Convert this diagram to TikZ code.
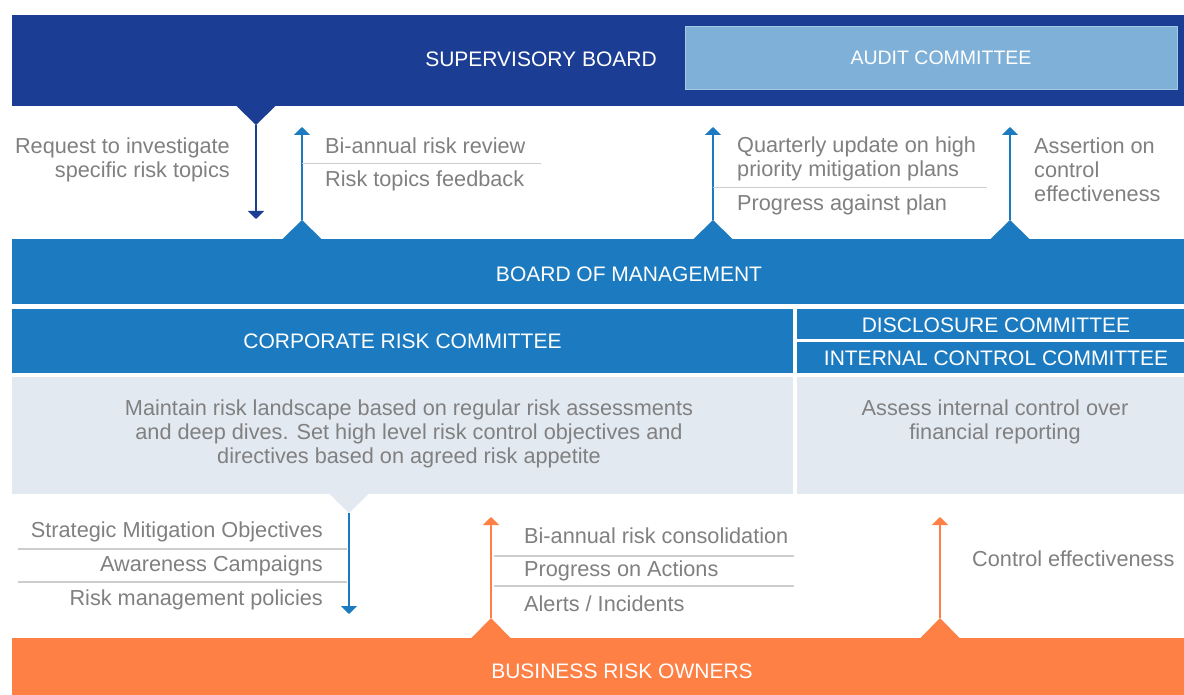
\documentclass[tikz,border=0pt]{standalone}
\usepackage{fontspec}
\setmainfont{Liberation Sans}
\usetikzlibrary{arrows.meta}

\definecolor{boardblue}{HTML}{1C3D94}
\definecolor{auditblue}{HTML}{7FB1D8}
\definecolor{mgmtblue}{HTML}{1C7BC0}
\definecolor{paleblue}{HTML}{E3E9F1}
\definecolor{ownerorange}{HTML}{FF8045}
\definecolor{txtgray}{HTML}{808080}
\definecolor{sepgray}{HTML}{CDCDCD}

\begin{document}
\begin{tikzpicture}[
  x=1pt, y=-1pt,
  band/.style={fill=#1, text=white, inner sep=0, font=\fontsize{21}{24}\selectfont},
  title/.style={text=white, inner sep=0, font=\fontsize{21}{24}\selectfont},
  lbl/.style={text=txtgray, inner sep=0, font=\fontsize{21.7}{24}\selectfont},
  flow/.style={line width=2pt, -{Triangle[width=16pt,length=8pt]}},
  sep/.style={draw=sepgray, line width=1.5pt}
]
\useasboundingbox[fill=white] (0,0) rectangle (1184,695);

% bands
\node[band=boardblue, minimum width=1172pt, minimum height=91pt] (superv) at (598,60.5) {};
\node[title] (supervtxt) at (541,59) {SUPERVISORY BOARD};
\node[band=auditblue, draw=auditblue!70!white, line width=1pt, minimum width=492pt, minimum height=63pt] (audit) at (931,58.5) {};
\node[title, font=\fontsize{19.5}{24}\selectfont] (audittxt) at (941,58) {AUDIT COMMITTEE};
\node[band=mgmtblue, minimum width=1172pt, minimum height=65pt] (mgmt) at (598,271.5) {};
\node[title] (mgmttxt) at (629,274) {BOARD OF MANAGEMENT};
\node[band=mgmtblue, minimum width=781pt, minimum height=64pt] (crc) at (402.5,341) {CORPORATE RISK COMMITTEE};
\node[band=mgmtblue, minimum width=387pt, minimum height=30pt] (disc) at (990.5,324) {};
\node[title] (disctxt) at (996,325) {DISCLOSURE COMMITTEE};
\node[band=mgmtblue, minimum width=387pt, minimum height=31pt] (icc) at (990.5,357.5) {};
\node[title] (icctxt) at (996,358) {INTERNAL CONTROL COMMITTEE};
\node[band=paleblue, minimum width=781pt, minimum height=117pt] (crcbox) at (402.5,435.5) {};
\node[lbl, align=center] (crctxt) at (409,434) {Maintain risk landscape based on regular risk assessments\\and deep dives. Set high level risk control objectives and\\directives based on agreed risk appetite};
\node[band=paleblue, minimum width=387pt, minimum height=117pt] (iccbox) at (990.5,435.5) {};
\node[lbl, align=center] (icctxt2) at (995,422) {Assess internal control over\\financial reporting};
\node[band=ownerorange, minimum width=1172pt, minimum height=57pt] (owners) at (598,666.5) {};
\node[title] (ownerstxt) at (622,671) {BUSINESS RISK OWNERS};

% triangles and arrow ends
\coordinate (reqtip) at (256,125);
\coordinate (reqend) at (256,219);
\fill[boardblue] (236,105.5) -- (276,105.5) -- (reqtip) -- cycle;
\coordinate (revtip) at (302,220);
\coordinate (revend) at (302,127);
\fill[mgmtblue] (282,239.5) -- (322,239.5) -- (revtip) -- cycle;
\coordinate (qtip) at (713,220);
\coordinate (qend) at (713,127);
\fill[mgmtblue] (693,239.5) -- (733,239.5) -- (qtip) -- cycle;
\coordinate (asstip) at (1010,220);
\coordinate (assend) at (1010,127);
\fill[mgmtblue] (990,239.5) -- (1030,239.5) -- (asstip) -- cycle;
\coordinate (objtip) at (349,513);
\coordinate (objend) at (349,614);
\fill[paleblue] (329,493.5) -- (369,493.5) -- (objtip) -- cycle;
\coordinate (constip) at (491,618);
\coordinate (consend) at (491,517);
\fill[ownerorange] (471,638.5) -- (511,638.5) -- (constip) -- cycle;
\coordinate (ctltip) at (940,618);
\coordinate (ctlend) at (940,517);
\fill[ownerorange] (920,638.5) -- (960,638.5) -- (ctltip) -- cycle;

\draw[flow, boardblue] (reqtip) -- (reqend);
\draw[flow, mgmtblue] (revtip) -- (revend);
\draw[flow, mgmtblue] (qtip) -- (qend);
\draw[flow, mgmtblue] (asstip) -- (assend);
\draw[flow, mgmtblue] (objtip) -- (objend);
\draw[flow, ownerorange] (constip) -- (consend);
\draw[flow, ownerorange] (ctltip) -- (ctlend);

% labels
\node[lbl, anchor=east, align=right] (req) at (230,160) {Request to investigate\\specific risk topics};
\node[lbl, anchor=west] (rev1) at (325,146) {Bi-annual risk review};
\node[lbl, anchor=west] (rev2) at (325,181) {Risk topics feedback};
\draw[sep] (302,163.5) -- (541,163.5);
\node[lbl, anchor=west, align=left] (q1) at (737,159) {Quarterly update on high\\priority mitigation plans};
\node[lbl, anchor=west] (q2) at (737,205) {Progress against plan};
\draw[sep] (713,187.5) -- (987,187.5);
\node[lbl, anchor=west, align=left] (ass) at (1034,170) {Assertion on\\control\\effectiveness};
\node[lbl, anchor=east] (obj1) at (323,532) {Strategic Mitigation Objectives};
\node[lbl, anchor=east] (obj2) at (323,566) {Awareness Campaigns};
\node[lbl, anchor=east] (obj3) at (323,600) {Risk management policies};
\draw[sep] (18,549) -- (347,549);
\draw[sep] (18,582) -- (347,582);
\node[lbl, anchor=west] (cons1) at (524,536) {Bi-annual risk consolidation};
\node[lbl, anchor=west] (cons2) at (524,571) {Progress on Actions};
\node[lbl, anchor=west] (cons3) at (524,604) {Alerts / Incidents};
\draw[sep] (494,556) -- (794,556);
\draw[sep] (494,586) -- (794,586);
\node[lbl, anchor=west] (ctl) at (972,559) {Control effectiveness};
\end{tikzpicture}
\end{document}
